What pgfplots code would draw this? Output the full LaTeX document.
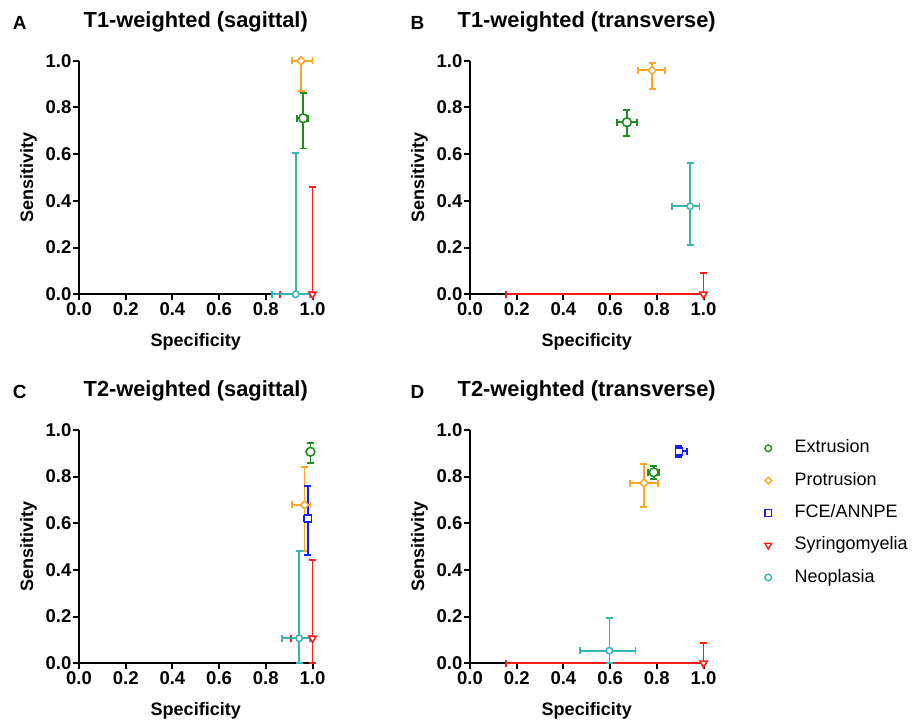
\documentclass[border=0pt]{standalone}
\usepackage{fontspec}
\setmainfont{Liberation Sans}
\usepackage{pgfplots}
\pgfplotsset{compat=1.18}

\definecolor{cgreen}{RGB}{30,140,30}
\definecolor{corange}{RGB}{255,165,35}
\definecolor{cblue}{RGB}{25,25,255}
\definecolor{cred}{RGB}{255,25,25}
\definecolor{cteal}{RGB}{55,180,180}

\pgfplotsset{
  roc/.style={
    at={#1}, anchor=south west,
    set layers,
    scale only axis, width=233.5pt, height=233.5pt,
    xmin=0, xmax=1, ymin=0, ymax=1,
    clip=false,
    axis lines=left,
    axis line style={-, line width=2pt, black},
    xtick={0,0.2,0.4,0.6,0.8,1}, ytick={0,0.2,0.4,0.6,0.8,1},
    tick align=outside, major tick length=6pt,
    tick style={line width=2pt, black},
    /pgf/number format/fixed, /pgf/number format/fixed zerofill,
    /pgf/number format/precision=1, /pgf/number format/assume math mode=true,
    tick label style={font=\fontsize{18.5}{20}\selectfont\bfseries},
    yticklabel style={inner xsep=1.5pt},
    xticklabel style={inner ysep=2pt},
    xlabel={Specificity}, ylabel={Sensitivity},
    label style={font=\fontsize{18}{20}\selectfont\bfseries},
    xlabel style={at={(axis description cs:0.5,-0.224)}, anchor=base},
    ylabel style={at={(axis description cs:-0.196,0.5)}, anchor=base},
    title style={font=\fontsize{21.8}{24}\selectfont\bfseries,
                 at={(axis description cs:0.5,1.116)}, anchor=base},
  },
  ebar/.style={only marks, forget plot,
    error bars/.cd, x dir=both, x explicit, y dir=both, y explicit,
    error bar style={line width=1.8pt, solid},
    error mark options={rotate=90, line width=1.8pt, mark size=3.5pt}},
  sExt/.style={color=cgreen, mark=*, mark size=4.4pt,
    mark options={fill=white, line width=1.6pt}},
  sPro/.style={color=corange, mark=square*, mark size=2.9pt,
    mark options={fill=white, rotate=45, line width=1.5pt}},
  sFce/.style={color=cblue, mark=square*, mark size=3.5pt,
    mark options={fill=white, line width=1.6pt}},
  sSyr/.style={color=cred, mark=triangle*, mark size=4.2pt,
    mark options={fill=white, rotate=180, line width=1.5pt}},
  sNeo/.style={color=cteal, mark=*, mark size=3.2pt,
    mark options={fill=white, line width=1.5pt}},
}

\begin{document}
\begin{tikzpicture}
\path (0pt,0pt) (912pt,723pt);

% ---------- A ----------
\begin{axis}[roc={(79pt,428.7pt)}, title={T1-weighted (sagittal)}]
\addplot[sExt, ebar] coordinates {(0.960,0.754) += (0.020,0.107) -= (0.026,0.130)};
\addplot[sPro, ebar] coordinates {(0.951,1.000) += (0.049,0.000) -= (0.038,0.128)};
\addplot[sSyr, ebar] coordinates {(1.000,0.000) += (0.000,0.461) -= (0.139,0.000)};
\addplot[sNeo, ebar] coordinates {(0.928,0.000) += (0.062,0.604) -= (0.100,0.000)};
\node[font=\fontsize{19}{22}\selectfont\bfseries, anchor=base] at (axis description cs:-0.254,1.133) {A};
\end{axis}

% ---------- B ----------
\begin{axis}[roc={(470pt,428.7pt)}, title={T1-weighted (transverse)}]
\addplot[sExt, ebar] coordinates {(0.672,0.737) += (0.043,0.052) -= (0.043,0.059)};
\addplot[sPro, ebar] coordinates {(0.780,0.959) += (0.055,0.033) -= (0.062,0.081)};
\addplot[sSyr, ebar] coordinates {(1.000,0.000) += (0.000,0.091) -= (0.845,0.000)};
\addplot[sNeo, ebar] coordinates {(0.943,0.377) += (0.040,0.187) -= (0.078,0.165)};
\node[font=\fontsize{19}{22}\selectfont\bfseries, anchor=base] at (axis description cs:-0.225,1.133) {B};
\end{axis}

% ---------- C ----------
\begin{axis}[roc={(79pt,59.7pt)}, title={T2-weighted (sagittal)}]
\addplot[sExt, ebar] coordinates {(0.991,0.906) += (0.009,0.039) -= (0.011,0.049)};
\addplot[sPro, ebar] coordinates {(0.966,0.678) += (0.025,0.161) -= (0.054,0.197)};
\addplot[sFce, ebar] coordinates {(0.980,0.621) += (0.015,0.140) -= (0.015,0.157)};
\addplot[sSyr, ebar] coordinates {(1.000,0.107) += (0.000,0.336) -= (0.091,0.107)};
\addplot[sNeo, ebar] coordinates {(0.943,0.107) += (0.047,0.374) -= (0.073,0.107)};
\node[font=\fontsize{19}{22}\selectfont\bfseries, anchor=base] at (axis description cs:-0.254,1.133) {C};
\end{axis}

% ---------- D ----------
\begin{axis}[roc={(470pt,59.7pt)}, title={T2-weighted (transverse)},
  legend style={at={(axis description cs:1.262,0.958)}, anchor=north west,
    draw=none, fill=none, inner sep=0pt,
    font=\fontsize{18}{20}\selectfont,
    row sep=15.3pt, column sep=23pt,
    nodes={inner sep=0pt, text height=13pt, text depth=4pt}},
  legend cell align=left]
\addplot[sExt, ebar] coordinates {(0.787,0.818) += (0.023,0.027) -= (0.024,0.029)};
\addplot[sPro, ebar] coordinates {(0.745,0.772) += (0.061,0.083) -= (0.060,0.104)};
\addplot[sFce, ebar] coordinates {(0.895,0.908) += (0.036,0.022) -= (0.015,0.023)};
\addplot[sSyr, ebar] coordinates {(1.000,0.000) += (0.000,0.088) -= (0.847,0.000)};
\addplot[sNeo, ebar] coordinates {(0.597,0.054) += (0.112,0.139) -= (0.126,0.054)};
\addlegendimage{only marks, color=cgreen, mark=*, mark size=3.3pt, mark options={fill=white, line width=1.4pt}}
\addlegendentry{Extrusion}
\addlegendimage{only marks, color=corange, mark=square*, mark size=2.4pt, mark options={fill=white, rotate=45, line width=1.4pt}}
\addlegendentry{Protrusion}
\addlegendimage{only marks, color=cblue, mark=square*, mark size=3.3pt, mark options={fill=white, line width=1.4pt}}
\addlegendentry{FCE/ANNPE}
\addlegendimage{only marks, color=cred, mark=triangle*, mark size=3.9pt, mark options={fill=white, rotate=180, line width=1.4pt}}
\addlegendentry{Syringomyelia}
\addlegendimage{only marks, color=cteal, mark=*, mark size=3.3pt, mark options={fill=white, line width=1.4pt}}
\addlegendentry{Neoplasia}
\node[font=\fontsize{19}{22}\selectfont\bfseries, anchor=base] at (axis description cs:-0.225,1.133) {D};
\end{axis}
\end{tikzpicture}
\end{document}
